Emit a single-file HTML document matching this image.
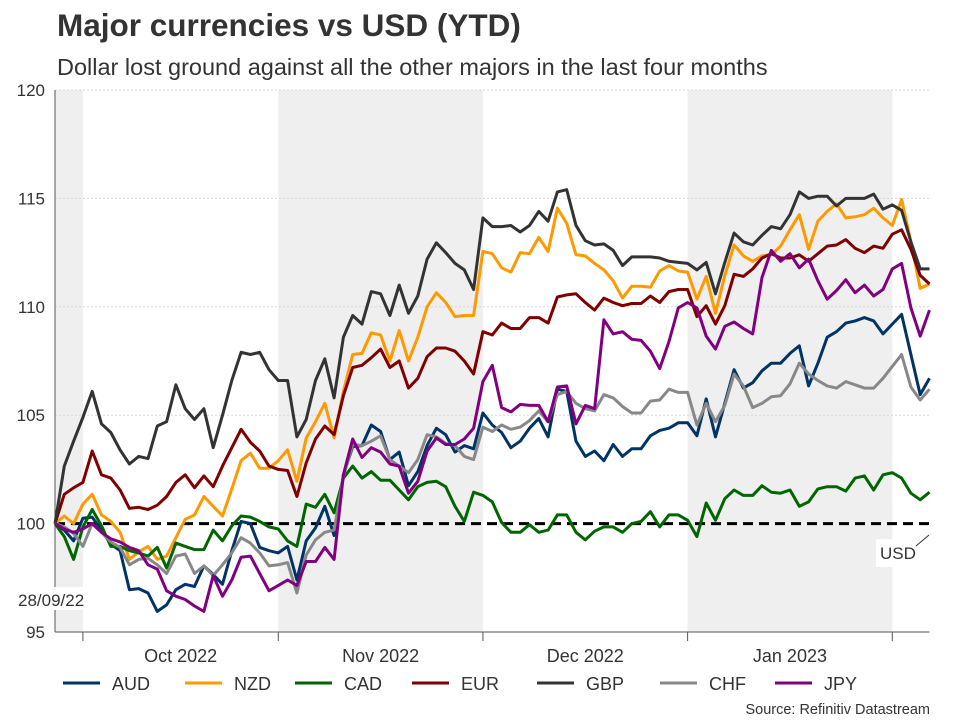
<!DOCTYPE html>
<html><head><meta charset="utf-8">
<style>
html,body{margin:0;padding:0;background:#fff;}
body{width:960px;height:720px;overflow:hidden;font-family:"Liberation Sans",Arial,sans-serif;}
</style></head>
<body>
<svg id="chart" width="960" height="720" viewBox="0 0 960 720" xmlns="http://www.w3.org/2000/svg">
<text x="57" y="36" font-size="31.5" font-weight="bold" fill="#333">Major currencies vs USD (YTD)</text>
<text x="57" y="75" font-size="23.5" fill="#333">Dollar lost ground against all the other majors in the last four months</text>
<g id="bands"></g>
<g id="grid"></g>
<g id="yticks"></g>
<g id="xaxis"></g>
<g id="series"></g>
<g id="legend"></g>
<text x="930" y="714" font-size="14.5" fill="#333" text-anchor="end">Source: Refinitiv Datastream</text>
</svg>
<script>
const yTicks=[95,100,105,110,115,120];
const monthLabels=["Oct 2022","Nov 2022","Dec 2022","Jan 2023"];
const monthStartIdx=[3,24,46,68,90];
const seriesNames=["AUD","NZD","CAD","EUR","GBP","CHF","JPY"];
const seriesColors=["#003366","#ff9900","#006600","#800000","#333333","#888888","#800080"];
const AUD=[100,99.7,99.2,100.25,100.3,99.7,99.05,98.75,96.95,97,96.8,95.95,96.25,96.95,97.2,97.1,98.05,97.65,97.2,98.75,100.1,100,98.9,98.75,98.65,98.95,97.4,99.2,99.8,100.8,99.45,102.25,103.55,103.6,104.55,104.25,102.95,103.3,101.75,102.4,103.6,104.4,104.1,103.3,103.6,103.45,105.1,104.55,104.2,103.5,103.8,104.4,104.85,104,106.2,106.1,103.8,103.1,103.35,102.9,103.65,103.1,103.45,103.45,104.05,104.3,104.4,104.65,104.65,104.05,105.75,104,105.55,107.1,106.25,106.5,107.05,107.4,107.4,107.85,108.2,106.35,107.4,108.6,108.85,109.25,109.35,109.5,109.35,108.75,109.2,109.65,107.8,105.95,106.7];
const NZD=[100,100.35,100,100.9,101.35,100.4,100.1,99.6,98.35,98.7,98.95,98.35,98.5,99.35,100.2,100.4,101.25,100.8,100.35,101.6,102.9,103.25,102.55,102.55,102.9,103.4,101.95,103.95,104.7,105.55,103.95,106.1,107.8,107.85,108.8,108.7,107.5,108.9,107.5,108.6,110,110.65,110.2,109.55,109.6,109.6,112.55,112.45,111.8,111.6,112.5,112.45,113.2,112.55,114.55,113.85,112.4,112.35,112,111.7,111.2,110.4,110.95,110.95,110.9,111.65,111.9,111.65,111.6,110.35,111.4,109.7,111.45,112.85,112.35,112.1,112.35,112.4,112.8,113.55,114.25,112.65,113.95,114.4,114.75,114.1,114.15,114.25,114.55,114.1,113.75,114.95,113,110.85,111.05];
const CAD=[100,99.4,98.35,99.85,100.65,99.9,98.95,98.95,98.75,98.65,98.5,98.9,97.95,99.1,98.95,98.8,98.8,99.7,99.2,99.9,100.35,100.3,100.1,99.85,99.75,99.2,98.95,100.9,100.75,101.35,100.5,102.1,102.65,102.1,102.4,102,102,101.55,101.1,101.7,101.9,101.95,101.7,100.8,100.1,101.45,101.3,101,100.05,99.6,99.6,99.95,99.6,99.7,100.4,100.4,99.6,99.25,99.65,99.85,99.85,99.6,100,100.1,100.55,99.85,100.4,100.4,100.15,99.4,100.95,100.15,101.15,101.55,101.3,101.3,101.75,101.45,101.4,101.55,100.8,101,101.6,101.7,101.7,101.5,102.1,102.2,101.55,102.25,102.35,102.1,101.4,101.1,101.45];
const EUR=[100,101.35,101.65,101.9,103.35,102.25,102.1,101.55,100.7,100.75,100.65,100.85,101.25,101.9,102.25,101.65,102.2,101.7,102.65,103.5,104.35,103.75,103.35,102.65,102.5,102.45,101.25,102.8,103.9,104.5,104.1,105.9,107.2,107.3,107.65,108.05,107.2,107.5,106.25,106.7,107.7,108.1,108.1,107.95,107.5,106.9,108.85,108.7,109.25,109,109,109.5,109.5,109.25,110.45,110.55,110.6,110.2,109.85,110.4,110.2,110.05,110.15,110.15,110.5,110.2,110.7,110.8,110.8,109.55,110.05,109.2,110.05,111.5,111.4,111.75,112.25,112.45,112.25,112.25,112.4,112.1,112.45,112.8,112.85,113.1,112.7,112.5,112.8,112.7,113.35,113.55,112.65,111.45,111.05];
const GBP=[100,102.65,103.8,104.9,106.1,104.6,104.2,103.4,102.75,103.1,103,104.5,104.7,106.4,105.3,104.8,105.3,103.5,105,106.6,107.9,107.8,107.9,107.1,106.6,106.6,104,104.8,106.6,107.6,105.8,108.6,109.6,109.2,110.7,110.6,109.6,111,109.7,110.5,112.2,112.95,112.5,112,111.7,110.8,114.1,113.7,113.7,113.75,113.45,113.75,114.4,113.95,115.3,115.4,113.75,113.05,112.85,112.9,112.6,111.9,112.3,112.3,112.3,112.25,112.1,112.05,112,111.7,112.05,110.6,112.05,113.4,113,112.85,113.3,113.7,113.6,114.25,115.3,115,115.1,115.1,114.65,115,115,115,115.2,114.5,114.7,114.45,113,111.75,111.75];
const CHF=[100,99.85,99.55,98.95,100,99.6,99.15,98.9,98.1,98.35,98.4,98.1,97.7,98.5,98.6,97.7,98.05,97.6,98.1,98.65,99.35,99.1,98.65,98.05,98.1,98.2,96.8,98.55,99.25,99.6,99.7,102.2,103.65,103.6,103.8,104.05,102.95,102.65,102.35,102.95,104.1,104,103.7,103.6,103.1,102.95,104.45,104.25,104.55,104.35,104.45,104.75,105.2,104.7,105.95,106.1,105.55,105.3,105.2,105.95,105.8,105.4,105.1,105.1,105.65,105.7,106.2,106.05,106.05,104.55,105.55,104.7,105.45,106.9,106.35,105.35,105.55,105.85,105.9,106.45,107.4,106.9,106.6,106.35,106.25,106.55,106.4,106.25,106.25,106.7,107.25,107.8,106.3,105.7,106.2];
const JPY=[100,99.75,99.6,99.75,100,99.6,99.3,99.15,98.9,98.75,98.1,97.9,96.9,96.65,96.5,96.2,95.95,97.6,96.65,97.4,98.45,98.5,97.7,96.9,97.15,97.4,97.15,98.25,98.25,98.9,98.35,102.25,103.9,103.05,103.5,103.3,102.75,102.65,101.4,101.95,103.35,103.95,103.65,103.65,103.9,104.4,106.55,107.3,105.35,105.15,105.5,105.45,105.45,104.7,106.3,106.35,104.6,105.45,105.3,109.4,108.75,108.85,108.5,108.45,107.95,107.15,108.4,109.95,110.2,109.95,108.65,108.05,109.1,109.3,109,108.75,111.35,112.6,112.1,112.45,111.8,112.2,111.2,110.35,110.75,111.25,110.65,111,110.5,110.8,111.75,112,109.95,108.65,109.85];
const seriesData=[AUD,NZD,CAD,EUR,GBP,CHF,JPY];
const baseline=100;

const NS="http://www.w3.org/2000/svg";
const X0=55,X1=929.5,Y0=632,Y1=90,NPTS=95;
const xS=i=>X0+i*(X1-X0)/(NPTS-1);
const yS=v=>Y0-(v-95)*(Y0-Y1)/25;
function mk(tag,attrs,parent){const e=document.createElementNS(NS,tag);for(const k in attrs)e.setAttribute(k,attrs[k]);parent.appendChild(e);return e;}
const bands=document.getElementById('bands'),grid=document.getElementById('grid'),yt=document.getElementById('yticks'),xa=document.getElementById('xaxis'),ser=document.getElementById('series'),leg=document.getElementById('legend');
const bx=monthStartIdx.map(i=>xS(i));
[[X0,bx[0]],[bx[1],bx[2]],[bx[3],bx[4]]].forEach(b=>{
 const r=mk('rect',{x:b[0],y:Y1,width:b[1]-b[0],height:Y0-Y1,fill:'#efefef'},bands);
 
 
});
yTicks.forEach(v=>{
 if(v>100){const l=mk('line',{x1:X0,x2:X1,y1:yS(v),y2:yS(v),stroke:'#d8d8d8','stroke-dasharray':'2 2','stroke-width':1},grid);
 
 }
 const t=mk('text',{x:45,y:yS(v)+6,'font-size':17,fill:'#333','text-anchor':'end'},yt);
 t.textContent=v;
 
 
});
mk('line',{x1:X0,x2:X0,y1:Y1,y2:Y0,stroke:'#555','stroke-width':1},yt);
mk('line',{x1:X0,x2:X1,y1:Y0,y2:Y0,stroke:'#555','stroke-width':1},xa);
bx.forEach(x=>{mk('line',{x1:x,x2:x,y1:Y0,y2:Y0+9,stroke:'#555','stroke-width':1},xa);});
monthLabels.forEach((m,i)=>{
 const t=mk('text',{x:(bx[i]+bx[i+1])/2,y:662,'font-size':18,fill:'#333','text-anchor':'middle'},xa);
 t.textContent=m;
 
 
});
const bl=mk('line',{x1:X0,x2:X1,y1:yS(baseline),y2:yS(baseline),stroke:'#000','stroke-width':3,'stroke-dasharray':'10 6'},ser);


seriesData.forEach((d,k)=>{
 const p=mk('polyline',{points:d.map((v,i)=>xS(i).toFixed(1)+','+yS(v).toFixed(1)).join(' '),fill:'none',stroke:seriesColors[k],'stroke-width':3,'stroke-linejoin':'round'},ser);
 
 
});
mk('rect',{x:15,y:587,width:80,height:23,fill:'#fff'},ser);
const dl=mk('text',{x:18,y:606,'font-size':17,fill:'#333'},ser);dl.textContent='28/09/22';


mk('rect',{x:876,y:539,width:50,height:28,fill:'#fff'},ser);
mk('line',{x1:929,y1:535,x2:916,y2:546,stroke:'#333','stroke-width':1},ser);
const ul=mk('text',{x:880,y:559,'font-size':17,fill:'#333'},ser);ul.textContent='USD';


const legX=[63,185,295,412,537,660,775];
seriesNames.forEach((n,k)=>{
 const g=mk('g',{},leg);
 
 
 mk('line',{x1:legX[k],x2:legX[k]+37,y1:683,y2:683,stroke:seriesColors[k],'stroke-width':3},g);
 const t=mk('text',{x:legX[k]+49,y:690,'font-size':18,fill:'#333'},g);t.textContent=n;
});
</script>
</body></html>
